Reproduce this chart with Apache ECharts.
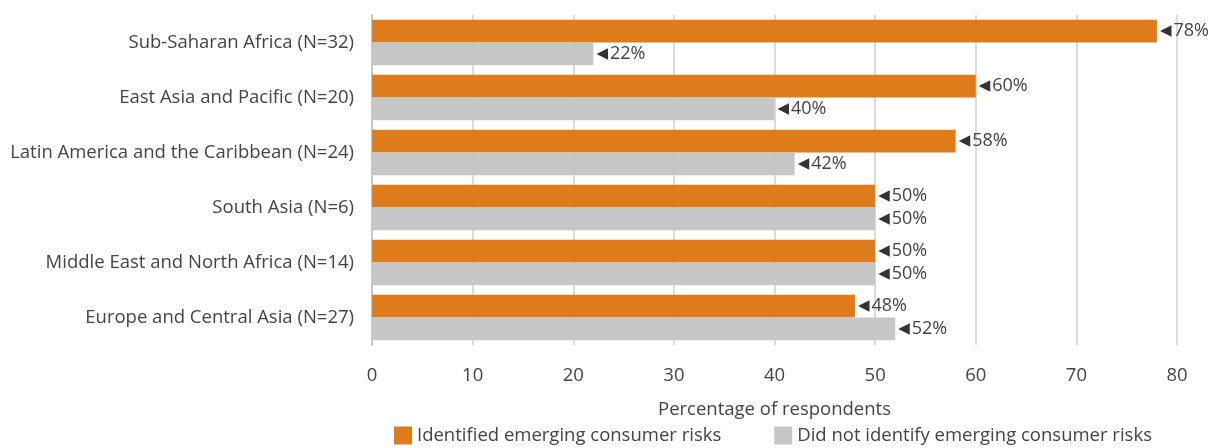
<!DOCTYPE html>
<html>
<head>
<meta charset="utf-8">
<script src="https://cdn.jsdelivr.net/npm/echarts@6/dist/echarts.min.js"></script>
<style>
html, body { margin: 0; padding: 0; background: #fff; }
#chart { width: 1215px; height: 448px; }
</style>
</head>
<body>
<div id="chart"></div>
<script>
// Regions, listed top to bottom
const regions = [
  'Sub-Saharan Africa (N=32)',
  'East Asia and Pacific (N=20)',
  'Latin America and the Caribbean (N=24)',
  'South Asia (N=6)',
  'Middle East and North Africa (N=14)',
  'Europe and Central Asia (N=27)'
];
// Share of respondents (%)
const identified = [78, 60, 58, 50, 50, 48];
const notIdentified = [22, 40, 42, 50, 50, 52];
const xTicks = [0, 10, 20, 30, 40, 50, 60, 70, 80];

const FONT = '"Open Sans", sans-serif';
const TEXT = '#444444';
const FS = 18.5;

const chart = echarts.init(document.getElementById('chart'));

const barLabel = {
  show: true,
  position: 'right',
  distance: 3,
  formatter: p => '{t|◀}' + p.value + '%',
  rich: {
    t: { fontSize: 15, color: '#333', fontFamily: 'DejaVu Sans', padding: [0, 2, 0, 0] }
  },
  color: TEXT,
  fontSize: 18,
  fontFamily: FONT
};

chart.setOption({
  animation: false,
  grid: { left: 372, right: 38, top: 15, bottom: 103 },
  legend: {
    top: 426,
    left: 394,
    padding: 0,
    itemGap: 53,
    itemWidth: 18,
    itemHeight: 18,
    icon: 'rect',
    textStyle: { color: TEXT, fontSize: FS, fontFamily: FONT },
    data: ['Identified emerging consumer risks', 'Did not identify emerging consumer risks']
  },
  xAxis: {
    type: 'value',
    min: xTicks[0],
    max: xTicks[xTicks.length - 1],
    interval: 10,
    name: 'Percentage of respondents',
    nameLocation: 'middle',
    nameGap: 55,
    nameTextStyle: { color: TEXT, fontSize: FS, fontFamily: FONT },
    axisLine: { show: false },
    axisTick: { show: false },
    axisLabel: { color: TEXT, fontSize: FS, fontFamily: FONT, margin: 21 },
    splitLine: { show: true, lineStyle: { color: '#d0d0d0', width: 1.5 } }
  },
  yAxis: {
    type: 'category',
    inverse: true,
    data: regions,
    axisLine: { show: true, lineStyle: { color: '#c8c8c8', width: 2 } },
    axisTick: { show: false },
    axisLabel: { color: TEXT, fontSize: FS, fontFamily: FONT, margin: 18, padding: [6, 0, 0, 0] }
  },
  series: [
    {
      name: 'Identified emerging consumer risks',
      type: 'bar',
      data: identified,
      barGap: '0%',
      barCategoryGap: '17%',
      itemStyle: { color: '#de7c1c' },
      label: barLabel
    },
    {
      name: 'Did not identify emerging consumer risks',
      type: 'bar',
      data: notIdentified,
      barGap: '0%',
      barCategoryGap: '17%',
      itemStyle: { color: '#c6c6c6' },
      label: barLabel
    }
  ]
});
</script>
</body>
</html>
